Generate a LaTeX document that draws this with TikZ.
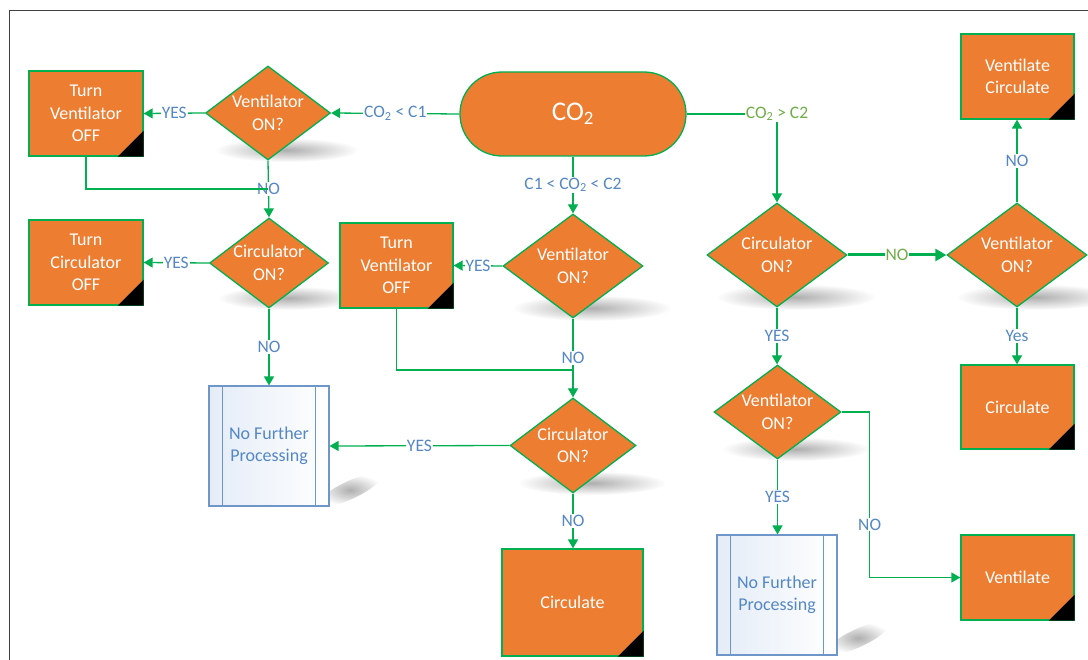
\documentclass[tikz,border=0pt]{standalone}
\usepackage{fontspec}
\setmainfont{Carlito}
\usetikzlibrary{shapes.geometric,arrows.meta,fadings,calc}
\definecolor{org}{RGB}{237,125,49}
\definecolor{grn}{RGB}{0,176,80}
\definecolor{lblue}{RGB}{84,135,196}
\definecolor{lgrn}{RGB}{112,173,71}
\definecolor{nfpb}{RGB}{110,150,200}
\definecolor{nfpf}{RGB}{228,236,247}
\definecolor{frm}{RGB}{64,64,64}
\tikzfading[name=softfade, inner color=transparent!0, outer color=transparent!100]
\tikzset{
 proc/.style={draw=grn, line width=1.3pt, fill=org, text=white, align=center, inner sep=0pt, font=\fontsize{18}{22.5}\selectfont},
 dec/.style={shape=diamond, draw=grn, line width=1.3pt, fill=org, inner sep=0pt},
 dectxt/.style={text=white, align=center, inner sep=0pt, font=\fontsize{18}{22.5}\selectfont},
 nfp/.style={draw=nfpb, line width=1.1pt, left color=nfpf, right color=white, text=lblue, align=center, minimum width=120pt, minimum height=120pt, inner sep=0pt, font=\fontsize{18}{22.5}\selectfont},
 conn/.style={draw=grn, line width=1.3pt},
 arr/.style={conn, -{Triangle[length=9pt,width=10pt]}},
 lbl/.style={fill=white, text=lblue, inner sep=1pt, font=\fontsize{17.5}{20}\selectfont},
 glbl/.style={lbl, text=lgrn},
 shd/.style={fill=black!70, opacity=0.45, path fading=softfade},
}
\newcommand\blackcorner[1]{\fill[black] (#1.south east) -- ++(-26,0) -- ++(26,-26) -- cycle;}
\newcommand\nfplines[1]{\draw[nfpb, line width=1.1pt] ($(#1.north west)+(14,0)$) -- ($(#1.south west)+(14,0)$);
 \draw[nfpb, line width=1.1pt] ($(#1.north east)+(-14,0)$) -- ($(#1.south east)+(-14,0)$);}
\begin{document}
\begin{tikzpicture}[x=1pt,y=-1pt]
\useasboundingbox (0,0) rectangle (1088,660);
% frame
\draw[frm, line width=1.2pt] (9.5,660) -- (9.5,10.5) -- (1088,10.5);
% shadows
\fill[shd] (287,150) ellipse [x radius=72pt, y radius=12pt];
\fill[shd] (288,298) ellipse [x radius=70pt, y radius=12pt];
\fill[shd] (592,308) ellipse [x radius=80pt, y radius=13pt];
\fill[shd] (592,483) ellipse [x radius=74pt, y radius=12pt];
\fill[shd] (796,297) ellipse [x radius=80pt, y radius=13pt];
\fill[shd] (1036,297) ellipse [x radius=80pt, y radius=13pt];
\fill[shd] (796,449) ellipse [x radius=74pt, y radius=12pt];
\fill[shd, rotate around={25:(350,490)}] (350,490) ellipse [x radius=34pt, y radius=9pt];
\fill[shd, rotate around={25:(858,638)}] (858,638) ellipse [x radius=34pt, y radius=9pt];
% nodes
\node[proc, rounded corners=41.9pt, minimum width=226pt, minimum height=84pt, font=\fontsize{27}{30}\selectfont] (co2) at (573,114) {CO\textsubscript{2}};
\node[dec, minimum width=125pt, minimum height=94pt] (d1) at (268,113) {};
\node[dectxt] (d1t) at (d1) {Ventilator\\ON?};
\node[proc, minimum width=114pt, minimum height=85pt] (tvo1) at (86,113.5) {Turn\\Ventilator\\OFF};
\node[dec, minimum width=119pt, minimum height=90pt] (d2) at (269,263) {};
\node[dectxt] (d2t) at (d2) {Circulator\\ON?};
\node[proc, minimum width=114pt, minimum height=85pt] (tco) at (86,262.5) {Turn\\Circulator\\OFF};
\node[nfp] (nfp1) at (269,446) {No Further\\Processing};
\node[proc, minimum width=113pt, minimum height=85pt] (tvo2) at (396.5,265.5) {Turn\\Ventilator\\OFF};
\node[dec, minimum width=140pt, minimum height=104pt] (d3) at (573,266) {};
\node[dectxt] (d3t) at (d3) {Ventilator\\ON?};
\node[dec, minimum width=126pt, minimum height=95pt] (d4) at (573,445.5) {};
\node[dectxt] (d4t) at (d4) {Circulator\\ON?};
\node[proc, minimum width=141pt, minimum height=107pt] (circ1) at (572.5,602.5) {Circulate};
\node[dec, minimum width=140pt, minimum height=104pt] (d5) at (777,255) {};
\node[dectxt] (d5t) at (d5) {Circulator\\ON?};
\node[dec, minimum width=140pt, minimum height=104pt] (d6) at (1017,255) {};
\node[dectxt] (d6t) at (d6) {Ventilator\\ON?};
\node[proc, minimum width=113pt, minimum height=85pt] (vc) at (1017.5,76.5) {Ventilate\\Circulate};
\node[proc, minimum width=113pt, minimum height=84pt] (circ2) at (1017.5,407) {Circulate};
\node[dec, minimum width=127pt, minimum height=94pt] (d7) at (777.5,412) {};
\node[dectxt] (d7t) at (d7) {Ventilator\\ON?};
\node[nfp] (nfp2) at (777,595) {No Further\\Processing};
\node[proc, minimum width=113pt, minimum height=85pt] (vent) at (1017.5,577.5) {Ventilate};
\foreach \n in {tvo1,tco,tvo2,circ1,vc,circ2,vent} {\blackcorner{\n}}
\nfplines{nfp1}
\nfplines{nfp2}
% junction points
\coordinate (j1) at (268,189);
\coordinate (j2) at (573,370);
% connectors
\draw[arr] (co2.west) -- node[lbl] (l1) {CO\textsubscript{2} < C1} (d1.east);
\draw[arr] (d1.west) -- node[lbl] (l2) {YES} (tvo1.east);
\draw[arr] (d1.south) -- node[lbl] (l3) {NO} (d2.north);
\draw[arr] (d2.west) -- node[lbl] (l4) {YES} (tco.east);
\draw[arr] (d2.south) -- node[lbl] (l5) {NO} (nfp1.north -| d2.south);
\draw[arr] (co2.south) -- node[lbl] (l6) {C1 < CO\textsubscript{2} < C2} (d3.north);
\draw[arr] (d3.west) -- node[lbl] (l7) {YES} (tvo2.east);
\draw[arr] (d3.south) -- node[lbl] (l8) {NO} (d4.north);
\draw[arr] (d4.west) -- node[lbl] (l9) {YES} (nfp1.east);
\draw[arr] (d4.south) -- node[lbl] (l10) {NO} (circ1.north -| d4.south);
\draw[arr] (co2.east) -| node[glbl, pos=0.5] (l11) {CO\textsubscript{2} > C2} (d5.north);
\draw[conn, line width=3pt, -{Triangle[length=11pt,width=12pt]}] (d5.east) -- node[glbl] (l12) {NO} (d6.west);
\draw[arr] (d6.north) -- node[lbl] (l13) {NO} (d6.north |- vc.south);
\draw[arr] (d6.south) -- node[lbl] (l14) {Yes} (d6.south |- circ2.north);
\draw[arr] (d5.south) -- node[lbl] (l15) {YES} (d5.south |- d7.north);
\draw[arr] (d7.south) -- node[lbl] (l16) {YES} (d7.south |- nfp2.north);
\draw[arr] (d7.east) -- ++(28,0) |- node[lbl, pos=0.34] (l17) {NO} (vent.west);
\draw[conn] (tvo1.south) |- (j1);
\draw[conn] (tvo2.south) |- (j2);
\end{tikzpicture}
\end{document}
